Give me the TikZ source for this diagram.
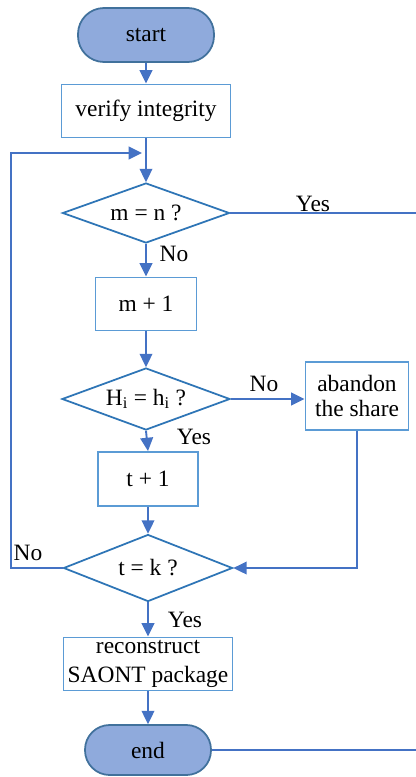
\documentclass[tikz,border=0pt]{standalone}
\usepackage{fontspec}
\setmainfont{Liberation Serif}
\usetikzlibrary{shapes.geometric,arrows.meta}
\definecolor{termfill}{HTML}{8FAADC}
\definecolor{termline}{HTML}{41719C}
\definecolor{boxline}{HTML}{5B9BD5}
\definecolor{decline}{HTML}{2E75B6}
\definecolor{arrline}{HTML}{4472C4}
\tikzset{
  term/.style={draw=termline,fill=termfill,line width=1.5pt,rounded corners=0.78cm,align=center},
  proc/.style={draw=boxline,fill=white,line width=1.6pt,align=center},
  dec/.style={draw=decline,fill=white,line width=1.5pt,diamond,aspect=2.8,inner sep=0pt},
  conn/.style={draw=arrline,line width=1.6pt},
  arr/.style={conn,-{Triangle[length=4mm,width=3.8mm]}},
  lbl/.style={inner sep=0pt}
}
\begin{document}
\begin{tikzpicture}[x=0.03cm,y=-0.03cm,font=\fontsize{20}{22}\selectfont]
  \useasboundingbox (0,0) rectangle (415,777);
  \node[term,minimum width=4.08cm,minimum height=1.62cm] (start) at (146,35) {start};
  \node[proc,minimum width=5.07cm,minimum height=1.59cm] (verify) at (146,111) {verify integrity};
  \node[dec,minimum width=5.01cm,minimum height=1.8cm] (mn) at (146,213) {m = n ?};
  \node[proc,minimum width=3.03cm,minimum height=1.59cm] (mplus) at (146,304) {m + 1};
  \node[dec,minimum width=5.04cm,minimum height=1.86cm] (hh) at (146,399) {H\textsubscript{i} = h\textsubscript{i} ?};
  \node[proc,minimum width=3.09cm,minimum height=2.04cm] (abandon) at (357,396) {abandon\\the share};
  \node[proc,minimum width=3.0cm,minimum height=1.62cm] (tplus) at (148,479) {t + 1};
  \node[dec,minimum width=5.07cm,minimum height=2.01cm] (tk) at (148,568) {t = k ?};
  \node[proc,minimum width=5.07cm,minimum height=1.59cm,inner sep=0pt,font=\fontsize{20}{25}\selectfont] (rebuild) at (148,664) {reconstruct\\SAONT package};
  \node[term,minimum width=3.78cm,minimum height=1.5cm,rounded corners=0.74cm] (end) at (148,750) {end};

  \coordinate (loopin) at (142,153);
  \coordinate (rtop) at (416,213);
  \coordinate (rbot) at (416,750);

  \draw[arr] (start) -- (verify);
  \draw[arr] (verify) -- (mn);
  \draw[arr] (mn) -- (mplus);
  \draw[arr] (mplus) -- (hh);
  \draw[arr] (hh.south) -- (tplus.north);
  \draw[arr] (tplus) -- (tk);
  \draw[arr] (tk) -- (rebuild);
  \draw[arr] (rebuild) -- (end);
  \draw[arr] (hh.east) -- (abandon.west |- hh.east);
  \draw[arr] (abandon.south) |- (tk.east);
  \draw[arr] (tk.west) -- (11,568) |- (loopin);
  \draw[conn] (mn.east) -- (rtop);
  \draw[conn] (end.east) -- (rbot);

  \node[lbl] (yes1) at (313,204) {Yes};
  \node[lbl] (no1) at (174,254) {No};
  \node[lbl] (no2) at (264,384) {No};
  \node[lbl] (yes2) at (194,437) {Yes};
  \node[lbl] (no3) at (28,553) {No};
  \node[lbl] (yes3) at (185,620) {Yes};
\end{tikzpicture}
\end{document}
